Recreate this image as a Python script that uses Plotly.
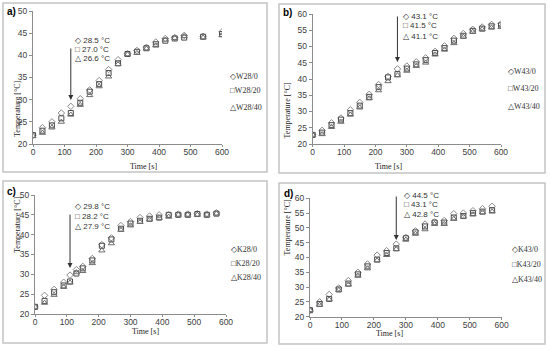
import plotly.graph_objects as go

W, H = 550, 347

# ---------------- data ----------------
t_a = [0, 30, 60, 90, 120, 150, 180, 210, 240, 270, 300, 330, 360, 390, 420, 450, 480, 540, 600]
w28_0 = [22.0, 23.7, 25.0, 27.0, 28.5, 30.2, 32.2, 34.3, 36.8, 39.0, 40.4, 41.1, 41.8, 43.0, 43.8, 44.0, 44.5, 44.3, 45.3]
w28_20 = [22.0, 23.0, 24.2, 25.8, 27.0, 29.3, 31.8, 33.5, 36.0, 38.2, 40.3, 40.8, 41.6, 42.5, 43.3, 43.8, 44.0, 44.2, 44.8]
w28_40 = [21.8, 22.5, 23.7, 25.0, 26.6, 28.8, 31.0, 33.0, 35.2, 38.0, 40.2, 40.5, 41.5, 42.2, 43.5, 43.9, 44.3, 44.0, 44.5]

t_b = [0, 30, 60, 90, 120, 150, 180, 210, 240, 270, 300, 330, 360, 390, 420, 450, 480, 510, 540, 570, 600]
w43_0 = [22.8, 24.2, 26.5, 28.0, 30.5, 32.8, 35.3, 38.3, 40.8, 43.1, 44.0, 45.3, 46.5, 48.5, 50.2, 52.5, 54.0, 55.3, 56.0, 56.8, 57.0]
w43_20 = [22.8, 23.5, 25.8, 27.5, 29.5, 31.8, 34.5, 37.5, 40.5, 41.5, 43.2, 44.5, 45.8, 48.0, 49.5, 51.8, 53.3, 54.8, 55.5, 56.2, 56.5]
w43_40 = [22.8, 23.0, 25.2, 26.8, 29.0, 31.2, 34.0, 36.5, 39.3, 41.1, 42.5, 44.0, 45.0, 47.5, 49.0, 51.0, 53.0, 54.5, 55.3, 55.8, 56.0]

t_c = [0, 30, 60, 90, 110, 130, 150, 180, 210, 240, 270, 300, 330, 360, 390, 420, 450, 480, 510, 540, 570]
k28_0 = [21.8, 24.7, 26.2, 28.0, 29.8, 31.2, 32.0, 34.0, 37.5, 39.2, 42.3, 43.3, 44.3, 44.7, 45.0, 45.0, 45.2, 45.2, 45.3, 45.2, 45.5]
k28_20 = [21.8, 23.3, 25.5, 27.2, 28.2, 30.2, 31.5, 33.5, 37.2, 38.8, 41.5, 42.8, 43.5, 44.0, 44.3, 45.0, 45.0, 45.0, 45.2, 45.0, 45.3]
k28_40 = [21.8, 22.8, 24.8, 26.8, 27.9, 30.5, 30.8, 32.8, 36.0, 37.8, 41.2, 42.3, 43.2, 43.8, 44.2, 44.5, 45.0, 45.0, 45.0, 45.0, 45.3]

t_d = [0, 30, 60, 90, 120, 150, 180, 210, 240, 270, 300, 330, 360, 390, 420, 450, 480, 510, 540, 570]
k43_0 = [22.2, 25.0, 27.5, 29.7, 32.2, 35.0, 37.8, 40.8, 42.3, 44.5, 46.8, 49.0, 51.3, 52.0, 52.5, 54.8, 55.0, 55.8, 56.5, 57.3]
k43_20 = [22.2, 24.3, 26.0, 29.2, 31.2, 34.3, 37.0, 39.3, 41.5, 43.1, 46.5, 48.5, 50.5, 51.8, 51.8, 53.5, 54.0, 55.0, 55.5, 56.0]
k43_40 = [22.2, 24.0, 25.8, 29.0, 30.8, 33.8, 36.3, 39.0, 40.8, 42.8, 46.0, 48.0, 49.5, 51.3, 51.3, 53.0, 53.8, 54.5, 55.2, 55.5]

x_ticks = [0, 100, 200, 300, 400, 500, 600]

panels = [
    dict(tag="a)", t=t_a, series=[("W28/0", w28_0), ("W28/20", w28_20), ("W28/40", w28_40)],
         yrange=[20, 50], arrow_t=120, labels=["28.5 °C", "27.0 °C", "26.6 °C"]),
    dict(tag="b)", t=t_b, series=[("W43/0", w43_0), ("W43/20", w43_20), ("W43/40", w43_40)],
         yrange=[20, 60], arrow_t=270, labels=["43.1 °C", "41.5 °C", "41.1 °C"]),
    dict(tag="c)", t=t_c, series=[("K28/0", k28_0), ("K28/20", k28_20), ("K28/40", k28_40)],
         yrange=[20, 50], arrow_t=110, labels=["29.8 °C", "28.2 °C", "27.9 °C"]),
    dict(tag="d)", t=t_d, series=[("K43/0", k43_0), ("K43/20", k43_20), ("K43/40", k43_40)],
         yrange=[20, 60], arrow_t=270, labels=["44.5 °C", "43.1 °C", "42.8 °C"]),
]

# ---------------- layout geometry (pixels) ----------------
plot_px = [  # x0, x1, ytop, ybottom
    (33, 222, 11, 144),
    (312.7, 501, 14, 144),
    (35, 226, 195, 314),
    (310, 501.7, 198.3, 316.7),
]
box_px = [(3, 267, 3, 172), (279, 545, 4, 173), (3, 267, 181, 343), (279, 545, 183, 344)]
tag_px = [(5, 11), (281, 13), (5, 191), (282, 193)]
ytitle_px = [(11, 78), (287, 80), (11, 255), (287, 258)]
xtitle_px = [(128, 166.5), (404, 166.5), (130, 337.5), (405, 340)]
legend_px = [(228, [76, 91, 107]), (506, [71, 88, 106]), (229, [249, 263, 277]), (510, [249, 264, 279])]
arrow_px = [(47, 100), (15, 62), (213, 268), (195, 240)]   # top, bottom (y pixels)
label_px = [(73, [40, 50, 59]), (401, [16, 25, 36]), (73, [206, 216, 226]), (402, [195, 204, 214])]

symbols = ["diamond-open", "square-open", "triangle-up-open"]
colors = ["#8a8a8a", "#4a4a4a", "#6e6e6e"]
usym = ["◇", "□", "△"]


def px2x(p):
    return p / W


def px2y(p):
    return 1 - p / H


fig = go.Figure()
shapes = []
annotations = []
layout_axes = {}

for i, (p, geo) in enumerate(zip(panels, plot_px)):
    n = "" if i == 0 else str(i + 1)
    xa, ya = "x" + n, "y" + n
    x0, x1, yt, yb = geo
    for j, (name, vals) in enumerate(p["series"]):
        fig.add_trace(go.Scatter(
            x=p["t"], y=vals, mode="markers", name=name, showlegend=False,
            marker=dict(symbol=symbols[j], size=5 if j != 2 else 5.5, color=colors[j],
                        line=dict(width=1, color=colors[j])),
            xaxis=xa, yaxis=ya))
    layout_axes["xaxis" + n] = dict(
        domain=[px2x(x0), px2x(x1)], range=[0, 600], tickvals=x_ticks, anchor=ya,
        automargin=False, ticklabelstandoff=-2,
        showgrid=False, zeroline=False, showline=True, linecolor="#8c8c8c", linewidth=1,
        ticks="outside", ticklen=2, tickcolor="#8c8c8c",
        tickfont=dict(family="Liberation Sans", size=8.5, color="#404040"))
    layout_axes["yaxis" + n] = dict(
        domain=[px2y(yb), px2y(yt)], range=p["yrange"], dtick=5, anchor=xa,
        automargin=False,
        showgrid=False, zeroline=False, showline=True, linecolor="#8c8c8c", linewidth=1,
        ticks="outside", ticklen=3, tickcolor="#8c8c8c",
        tickfont=dict(family="Liberation Sans", size=8.5, color="#404040"))

    # panel border
    bx0, bx1, by0, by1 = box_px[i]
    shapes.append(dict(type="rect", xref="paper", yref="paper",
                       x0=px2x(bx0), x1=px2x(bx1), y0=px2y(by1), y1=px2y(by0),
                       line=dict(color="#c4c4c4", width=1.5)))
    # panel tag
    annotations.append(dict(text="<b>" + p["tag"] + "</b>", xref="paper", yref="paper",
                            x=px2x(tag_px[i][0]), y=px2y(tag_px[i][1]), xanchor="left", yanchor="middle",
                            showarrow=False, font=dict(family="Liberation Sans", size=10, color="#000")))
    # axis titles
    annotations.append(dict(text="Temperature [°C]", xref="paper", yref="paper",
                            x=px2x(ytitle_px[i][0]), y=px2y(ytitle_px[i][1]), textangle=-90,
                            showarrow=False, font=dict(family="Liberation Serif", size=8, color="#222")))
    annotations.append(dict(text="Time [s]", xref="paper", yref="paper",
                            x=px2x(xtitle_px[i][0]), y=px2y(xtitle_px[i][1]),
                            showarrow=False, font=dict(family="Liberation Serif", size=8, color="#222")))
    # arrow (x in data coords, y in paper)
    atop, abot = arrow_px[i]
    annotations.append(dict(text="", xref=xa, yref="paper",
                            x=p["arrow_t"], y=px2y(abot), ax=0, ay=-(abot - atop),
                            showarrow=True, arrowhead=2, arrowsize=1, arrowwidth=1, arrowcolor="#333"))
    # value labels
    lpx, lpys = label_px[i]
    for j in range(3):
        annotations.append(dict(text=usym[j] + " " + p["labels"][j], xref="paper", yref="paper",
                                x=px2x(lpx), y=px2y(lpys[j]), xanchor="left", yanchor="middle",
                                showarrow=False, font=dict(family="Liberation Sans", size=8, color="#333")))
    # legend entries
    lx, lys = legend_px[i]
    for j, (name, _) in enumerate(p["series"]):
        annotations.append(dict(text=usym[j] + name, xref="paper", yref="paper",
                                x=px2x(lx), y=px2y(lys[j]), xanchor="left", yanchor="middle",
                                showarrow=False, font=dict(family="Liberation Serif", size=8, color="#333")))

fig.update_layout(
    width=W, height=H, margin=dict(l=0, r=0, t=0, b=0, autoexpand=False),
    paper_bgcolor="white", plot_bgcolor="white",
    shapes=shapes, annotations=annotations, showlegend=False,
    **layout_axes)

fig.write_html("out.html", config={"displayModeBar": False},
               post_script="document.body.style.margin='0px';document.body.style.overflow='hidden';")
